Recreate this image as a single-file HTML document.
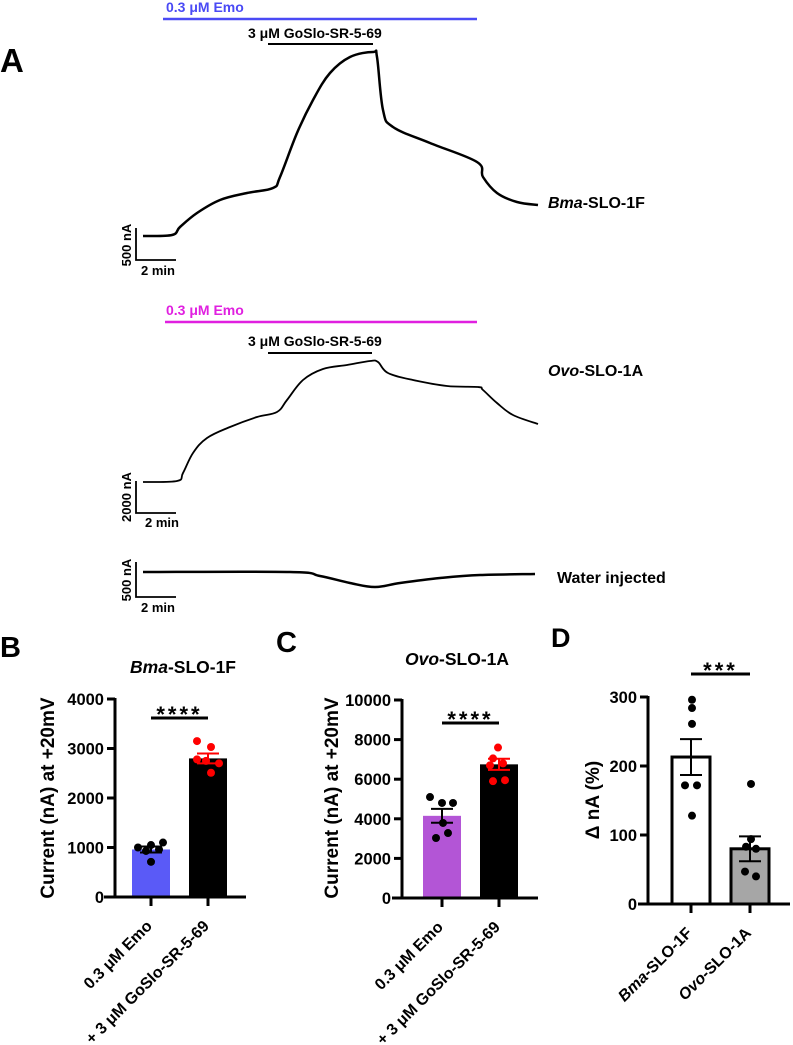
<!DOCTYPE html>
<html><head><meta charset="utf-8">
<style>
html,body{margin:0;padding:0;background:#fff;}
svg{display:block;font-family:"Liberation Sans",Arial,sans-serif;font-weight:bold;}
</style></head>
<body>
<svg id="fig" width="793" height="1045" viewBox="0 0 793 1045" xmlns="http://www.w3.org/2000/svg">
  <text x="0" y="72" font-size="33">A</text>
  <text x="0" y="657" font-size="29">B</text>
  <text x="276" y="652" font-size="29">C</text>
  <text x="551" y="647" font-size="27">D</text>

  <!-- Trace 1 annotations -->
  <text x="166" y="12" font-size="14" fill="#4a4af5">0.3 μM Emo</text>
  <line x1="163" y1="19" x2="477" y2="19" stroke="#4a4af5" stroke-width="2.5"/>
  <text x="248" y="38" font-size="14">3 μM GoSlo-SR-5-69</text>
  <line x1="268" y1="44" x2="373" y2="44" stroke="#000" stroke-width="2"/>
  <text x="548" y="208" font-size="16"><tspan font-style="italic">Bma</tspan>-SLO-1F</text>

  <!-- Trace 2 annotations -->
  <text x="166" y="315" font-size="14" fill="#e020e0">0.3 μM Emo</text>
  <line x1="165" y1="322" x2="477" y2="322" stroke="#e020e0" stroke-width="2.5"/>
  <text x="248" y="346" font-size="14">3 μM GoSlo-SR-5-69</text>
  <line x1="268" y1="353" x2="372" y2="353" stroke="#000" stroke-width="2"/>
  <text x="548" y="376" font-size="16"><tspan font-style="italic">Ovo</tspan>-SLO-1A</text>

  <text x="557" y="583" font-size="16">Water injected</text>

  <!-- scale bars -->
  <g stroke="#000" stroke-width="1.8" fill="none">
    <path d="M136 228 V260 H176"/>
  </g>
  <text transform="translate(131,245) rotate(-90)" text-anchor="middle" font-size="13">500 nA</text>
  <text x="141" y="275" font-size="13">2 min</text>

  <g stroke="#000" stroke-width="1.8" fill="none">
    <path d="M136 481 V513 H176"/>
  </g>
  <text transform="translate(131,497) rotate(-90)" text-anchor="middle" font-size="13">2000 nA</text>
  <text x="145" y="527" font-size="13">2 min</text>

  <g stroke="#000" stroke-width="1.8" fill="none">
    <path d="M136 562 V597 H176"/>
  </g>
  <text transform="translate(131,580) rotate(-90)" text-anchor="middle" font-size="13">500 nA</text>
  <text x="141" y="612" font-size="13">2 min</text>

  <g id="traces"></g>

  <!-- bar charts -->
  <g id="chartB"></g>
  <g id="chartC"></g>
  <g id="chartD"></g>
</svg>
<script>
// ---- trace data (time in min, current change in nA) ----
const t1Time = [0,1.45,1.85,2.7,3.85,5.2,6.5,6.85,7.7,8.5,9.35,10.35,11.5,11.7,12,12.5,14.35,16.7,17,17.7,18.7,19.75];
const t1Curr = [0,16,141,359,563,672,750,922,1609,2125,2547,2797,2875,2797,1969,1703,1453,1156,922,672,531,484];
const t2Time = [0,1.7,2,2.5,3.2,4.35,5.7,6.7,7.2,8,9,10.2,11.35,11.75,12.25,13.5,15.2,16.75,17,17.7,18.5,19.75];
const t2Curr = [0,63,563,1813,2750,3438,4063,4375,5125,6375,7063,7313,7563,7500,6813,6375,6000,5938,5750,4938,4188,3625];
const t3Time = [0,7.35,8.85,10.35,11.6,12.85,14.85,16.85,19.6];
const t3Curr = [0,0,-63,-172,-234,-172,-94,-47,-31];

// ---- bar chart data ----
const bCategories = ["0.3 μM Emo","+ 3 μM GoSlo-SR-5-69"];
const bMeans = [960, 2800];
const bSem = [60, 100];
const bPtsEmo = [1000,1050,1100,930,710,960];
const bPtsGoslo = [3150,3030,2780,2750,2700,2510];
const bTicks = [0,1000,2000,3000,4000];

const cCategories = ["0.3 μM Emo","+ 3 μM GoSlo-SR-5-69"];
const cMeans = [4150, 6750];
const cSem = [350, 280];
const cPtsEmo = [5100,4800,4800,3790,3280,3030];
const cPtsGoslo = [7600,7050,6800,6700,5900,5950];
const cTicks = [0,2000,4000,6000,8000,10000];

const dCategories = ["Bma","Ovo"];
const dMeans = [213, 80];
const dSem = [26, 18];
const dPtsBma = [296,284,261,172,172,128];
const dPtsOvo = [174,94,83,80,47,40];
const dTicks = [0,100,200,300];

const NS = "http://www.w3.org/2000/svg";
function mk(parent, tag, attrs){const e=document.createElementNS(NS,tag);for(const k in attrs)e.setAttribute(k,attrs[k]);parent.appendChild(e);return e;}

// traces
const tracesG = document.getElementById('traces');
function drawTrace(times, currs, x0, yBase, nAperPx, width, name){
  const xs = t => x0 + t*20;
  const ys = v => yBase - v/nAperPx;
  const P = times.map((t,i)=>[xs(t), ys(currs[i])]);
  let d = "M"+P[0][0].toFixed(1)+" "+P[0][1].toFixed(1);
  for(let i=0;i<P.length-1;i++){
    const p0=P[Math.max(0,i-1)], p1=P[i], p2=P[i+1], p3=P[Math.min(P.length-1,i+2)];
    const k=0.18;
    const c1=[p1[0]+(p2[0]-p0[0])*k, p1[1]+(p2[1]-p0[1])*k];
    const c2=[p2[0]-(p3[0]-p1[0])*k, p2[1]-(p3[1]-p1[1])*k];
    d += ` C${c1[0].toFixed(1)} ${c1[1].toFixed(1)} ${c2[0].toFixed(1)} ${c2[1].toFixed(1)} ${p2[0].toFixed(1)} ${p2[1].toFixed(1)}`;
  }
  const p = mk(tracesG,'path',{d:d,fill:'none',stroke:'#000','stroke-width':width,'stroke-linejoin':'round'});
  
  
}
drawTrace(t1Time,t1Curr,143,236,15.625,2.5,'trace-bma-slo-1f');
drawTrace(t2Time,t2Curr,143,482,62.5,1.8,'trace-ovo-slo-1a');
drawTrace(t3Time,t3Curr,143,572,15.625,2.5,'trace-water-injected');

function barChart(g, cfg){
  const y = v => cfg.y0 - (v - 0) * cfg.scale;
  cfg.means.forEach((m,i)=>{
    const cx = cfg.centers[i];
    const r = mk(g,'rect',{x:cx-19,y:y(m),width:38,height:cfg.y0-y(m),fill:cfg.fills[i],stroke:cfg.strokes[i],'stroke-width':cfg.barStroke});
    
    
  });
  cfg.points.forEach((arr,i)=>{
    arr.forEach((v,j)=>{
      const c = mk(g,'circle',{cx:cfg.centers[i]+cfg.jitter[i][j],cy:y(v),r:4,fill:cfg.ptColors[i]});
      
      
    });
  });
  cfg.means.forEach((m,i)=>{
    const cx = cfg.centers[i], s = cfg.sem[i];
    const e = mk(g,'path',{d:`M${cx-11} ${y(m+s)} H${cx+11} M${cx} ${y(m+s)} V${y(m-s)} M${cx-11} ${y(m-s)} H${cx+11}`,stroke:cfg.errColors[i],'stroke-width':2,fill:'none'});
    
    
  });
  const top = y(cfg.ticks[cfg.ticks.length-1]);
  const ya = mk(g,'line',{x1:cfg.ax,y1:top-1,x2:cfg.ax,y2:cfg.y0,stroke:'#000','stroke-width':3});
  
  
  const xa = mk(g,'line',{x1:cfg.xStart,y1:cfg.y0,x2:cfg.xEnd,y2:cfg.y0,stroke:'#000','stroke-width':3});
  
  
  cfg.ticks.forEach(t=>{
    const yy = y(t);
    const tk = mk(g,'line',{x1:cfg.ax-8,y1:yy,x2:cfg.ax,y2:yy,stroke:'#000','stroke-width':3});
    
    
    const tl = mk(g,'text',{x:cfg.ax-11,y:yy+6,'text-anchor':'end','font-size':16.5});
    tl.textContent = t;
    
    
  });
  cfg.centers.forEach((cx,i)=>{
    const tk = mk(g,'line',{x1:cx,y1:cfg.y0,x2:cx,y2:cfg.y0+9,stroke:'#000','stroke-width':3});
    
    
    const tl = mk(g,'text',{transform:`translate(${cx+2},${cfg.y0+30}) rotate(-45)`,'text-anchor':'end','font-size':16});
    if(cfg.italicCats){
      const a = mk(tl,'tspan',{'font-style':'italic'}); a.textContent = cfg.cats[i];
      const b = mk(tl,'tspan',{}); b.textContent = i===0? '-SLO-1F' : '-SLO-1A';
    } else tl.textContent = cfg.cats[i];
    
    
  });
  const sl = mk(g,'line',{x1:cfg.centers[0],y1:cfg.sigY,x2:cfg.centers[1],y2:cfg.sigY,stroke:'#000','stroke-width':3});
  
  
  const st = mk(g,'text',{x:(cfg.centers[0]+cfg.centers[1])/2,y:cfg.sigY+4,'text-anchor':'middle','font-size':22,'letter-spacing':3});
  st.textContent = cfg.stars;
  
  
  const yt = mk(g,'text',{transform:`translate(${cfg.ytX},${cfg.ytY}) rotate(-90)`,'text-anchor':'middle','font-size':19});
  yt.textContent = cfg.ytitle;
  
  
  if(cfg.title){
    const tt = mk(g,'text',{x:cfg.titleX,y:cfg.titleY,'text-anchor':'middle','font-size':17.5});
    const a = mk(tt,'tspan',{'font-style':'italic'}); a.textContent = cfg.title[0];
    const b = mk(tt,'tspan',{}); b.textContent = cfg.title[1];
    
    
  }
}

barChart(document.getElementById('chartB'),{
  id:'b', y0:897, scale:0.0495, ax:115, xStart:104, xEnd:246, centers:[151,208],
  means:bMeans, sem:bSem, points:[bPtsEmo,bPtsGoslo], jitter:[[-13,0,12,-5,0,8],[-11,3,-11,-2,11,3]],
  fills:['#5a5af7','#000'], strokes:['#5a5af7','#000'], barStroke:0,
  ptColors:['#000','#f00'], errColors:['#000','#f00'], ticks:bTicks, cats:bCategories,
  sigY:718, stars:'****', ytitle:'Current (nA) at +20mV', ytX:54, ytY:798,
  title:['Bma','-SLO-1F'], titleX:183, titleY:673
});
barChart(document.getElementById('chartC'),{
  id:'c', y0:898, scale:0.0198, ax:402, xStart:392, xEnd:538, centers:[442,499],
  means:cMeans, sem:cSem, points:[cPtsEmo,cPtsGoslo], jitter:[[-12,0,11,1,6,-6],[-1,-6,4,-9,-6,6]],
  fills:['#b355d6','#000'], strokes:['#b355d6','#000'], barStroke:0,
  ptColors:['#000','#f00'], errColors:['#000','#f00'], ticks:cTicks, cats:cCategories,
  sigY:723, stars:'****', ytitle:'Current (nA) at +20mV', ytX:338, ytY:798,
  title:['Ovo','-SLO-1A'], titleX:457, titleY:665
});
barChart(document.getElementById('chartD'),{
  id:'d', y0:904, scale:0.69, ax:648, xStart:638, xEnd:790, centers:[691,750],
  means:dMeans, sem:dSem, points:[dPtsBma,dPtsOvo], jitter:[[1,1,1,-6,6,1],[1,1,-4,6,-5,6]],
  fills:['#fff','#a6a6a6'], strokes:['#000','#000'], barStroke:3,
  ptColors:['#000','#000'], errColors:['#000','#000'], ticks:dTicks, cats:dCategories, italicCats:true,
  sigY:674, stars:'***', ytitle:'Δ nA (%)', ytX:599, ytY:800
});
</script>
</body></html>
